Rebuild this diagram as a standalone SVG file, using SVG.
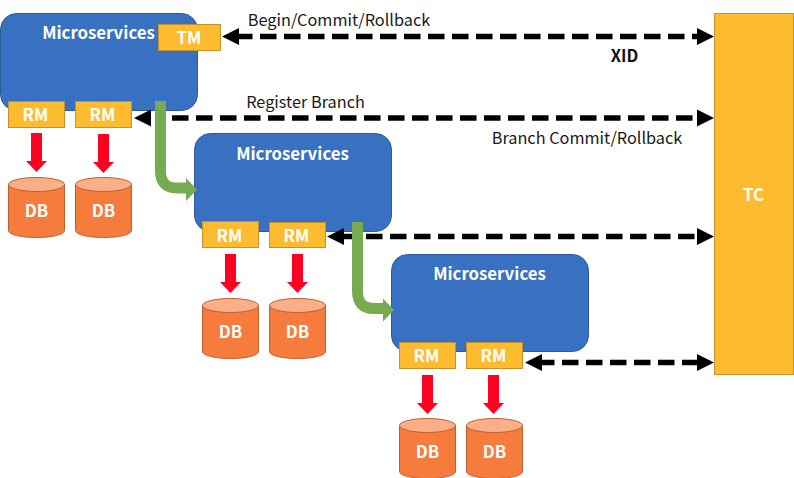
<svg xmlns="http://www.w3.org/2000/svg" width="794" height="478" viewBox="0 0 794 478">
<style>
.ms{fill:#3871c1;stroke:#2d5a96;stroke-width:1}
.box{fill:#fdbc2f;stroke:#c8902a;stroke-width:1}
.cyl{fill:#f67c3e;stroke:#bd5f2e;stroke-width:1}
.cap{fill:#fbaf88;stroke:#bd5f2e;stroke-width:1}
text{font-family:"Noto Sans CJK SC","Noto Sans",sans-serif;text-anchor:middle}
.w{fill:#fff;font-weight:700;font-size:16.800px}
.l{fill:#1a1a1a;font-size:16.300px}
.dash{fill:none;stroke:#000;stroke-width:5.500;stroke-dasharray:16.500 7.500}
.red{fill:#ff0021}
.green{fill:none;stroke:#76ab50;stroke-width:11}
.gh{fill:#76ab50}
</style>
<defs>
<g id="db"><path class="cyl" d="M0 7V53C0 57 12.500 60 28 60S56 57 56 53V7Z"/><ellipse class="cap" cx="28" cy="7" rx="28" ry="7"/><text class="w" x="28" y="39.500">DB</text></g>
<g id="down"><path class="red" d="M5 0H16V28H21L10.500 39 0 28H5Z"/></g>
</defs>
<g id="ms1"><rect class="ms" x="0.500" y="13.500" width="197" height="97" rx="16"/><text class="w" x="98.500" y="39">Microservices</text></g>
<g id="ms2"><rect class="ms" x="194.500" y="133.500" width="197" height="98" rx="16"/><text class="w" x="292.500" y="160">Microservices</text></g>
<g id="ms3"><rect class="ms" x="391.500" y="254.500" width="197" height="97" rx="16"/><text class="w" x="489.500" y="280">Microservices</text></g>
<g id="tc"><rect class="box" x="714.500" y="13.500" width="79" height="361"/><text class="w" x="753.500" y="201">TC</text></g>
<g id="connectors">
<path class="dash" d="M236 36.500H700M172 118H700M342 236.500H700M538 362.500H700"/>
<path d="M222 36.500 239 28V45ZM134 118 151 109.500V126.500ZM327 236.500 344 228V245ZM525 362.500 542 354V371ZM714 36.500 697 28V45ZM714 118 697 109.500V126.500ZM714 236.500 697 228V245ZM714 362.500 697 354V371Z"/>
<use href="#down" x="26" y="133"/><use href="#down" x="93" y="134"/>
<use href="#down" x="220" y="254"/><use href="#down" x="287" y="254"/>
<use href="#down" x="417" y="375"/><use href="#down" x="483" y="375"/>
<path class="green" d="M160.500 101V171Q160.500 188 177 188H187M357.500 222V291Q357.500 308.500 374 308.500H384"/>
<path class="gh" d="M186 178 197 189.500 186 201ZM383 298.500 394 310 383 321.500Z"/>
</g>
<g id="tm"><rect class="box" x="158.500" y="24.500" width="62" height="26"/><text class="w" x="189" y="44">TM</text></g>
<g id="rm1"><rect class="box" x="8.500" y="101.500" width="56" height="26"/><text class="w" x="35.500" y="121">RM</text></g>
<g id="rm2"><rect class="box" x="75.500" y="101.500" width="56" height="26"/><text class="w" x="102.500" y="121">RM</text></g>
<g id="rm3"><rect class="box" x="202.500" y="221.500" width="56" height="26"/><text class="w" x="229.500" y="241.500">RM</text></g>
<g id="rm4"><rect class="box" x="269.500" y="222.500" width="56" height="25"/><text class="w" x="296.500" y="241.500">RM</text></g>
<g id="rm5"><rect class="box" x="399.500" y="342.500" width="56" height="26"/><text class="w" x="426.500" y="362">RM</text></g>
<g id="rm6"><rect class="box" x="466.500" y="342.500" width="56" height="26"/><text class="w" x="493.500" y="362">RM</text></g>
<g id="db1"><use href="#db" x="8.500" y="177.500"/></g>
<g id="db2"><use href="#db" x="75.500" y="177.500"/></g>
<g id="db3"><use href="#db" x="202.500" y="298.500"/></g>
<g id="db4"><use href="#db" x="269.500" y="298.500"/></g>
<g id="db5"><use href="#db" x="399.500" y="418.500"/></g>
<g id="db6"><use href="#db" x="466.500" y="418.500"/></g>
<text class="l" x="339" y="25.500">Begin/Commit/Rollback</text>
<text class="l" x="305.500" y="107.500">Register Branch</text>
<text class="l" x="587" y="143.500">Branch Commit/Rollback</text>
<text x="624.500" y="61.500" style="font-weight:700;font-size:16.500px;fill:#111">XID</text>
</svg>
